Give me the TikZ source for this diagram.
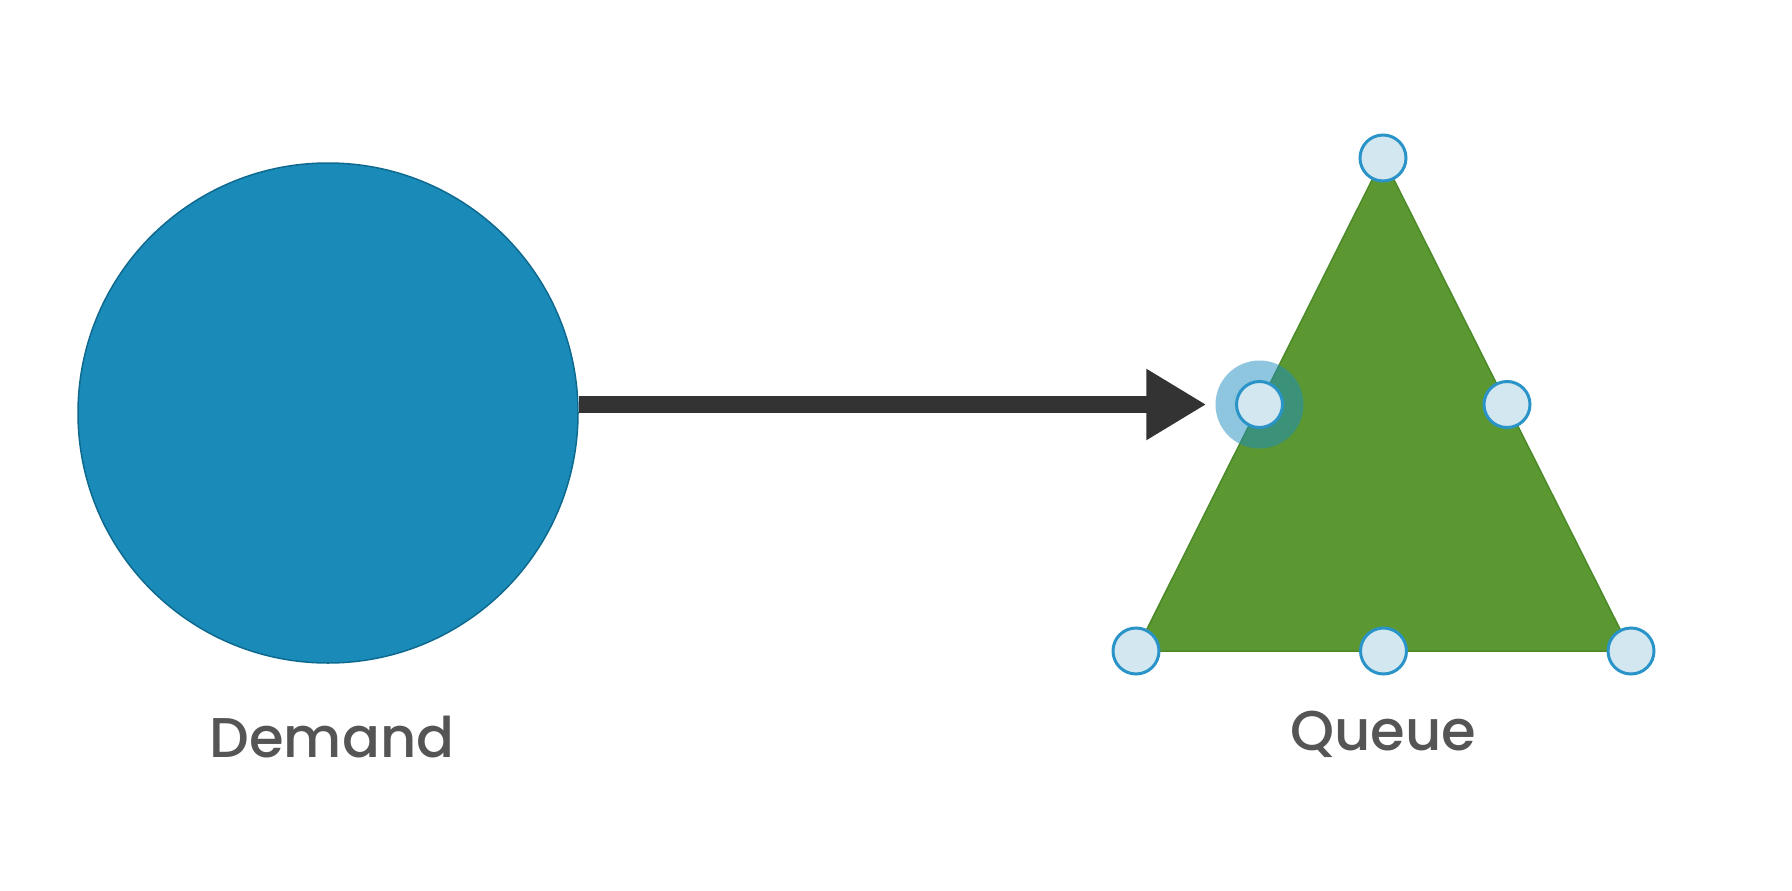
\documentclass[tikz,border=0pt]{standalone}
\usepackage{fontspec}
\setmainfont{Poppins}[UprightFont=* Medium]
\usetikzlibrary{arrows.meta,calc}
\definecolor{demandblue}{HTML}{1A8BB9}
\definecolor{demandedge}{HTML}{0F6A8F}
\definecolor{queuegreen}{HTML}{5B9832}
\definecolor{queueedge}{HTML}{4C8A28}
\definecolor{handlefill}{HTML}{D2E7EF}
\definecolor{handleedge}{HTML}{2A94C9}
\definecolor{halocolor}{HTML}{1E8DC0}
\definecolor{arrowgray}{HTML}{333333}
\definecolor{labelgray}{HTML}{555555}
\begin{document}
\begin{tikzpicture}[x=1pt,y=-1pt,
  handle/.style={circle, draw=handleedge, line width=3pt, fill=handlefill, minimum size=46pt, inner sep=0pt},
  halo/.style={circle, fill=halocolor, fill opacity=0.5, minimum size=88pt, inner sep=0pt},
  lbl/.style={anchor=base, text=labelgray, font=\fontsize{56}{60}\selectfont},
  connector/.style={draw=arrowgray, line width=17pt, -{Triangle[length=60pt, width=67pt]}}]
\useasboundingbox (0,0) rectangle (1792,891);
\fill[white] (0,0) rectangle (1792,891);
% Demand circle
\node[circle, fill=demandblue, draw=demandedge, line width=1.5pt, minimum size=500pt, inner sep=0pt] (demand) at (328,413) {};
% Queue triangle
\coordinate (qtop) at (1383,158);
\coordinate (qleft) at (1136,651);
\coordinate (qright) at (1631,651);
\draw[fill=queuegreen, draw=queueedge, line width=1.5pt] (qtop) -- (qleft) -- (qright) -- cycle;
\coordinate (qml) at ($(qtop)!0.5!(qleft)$);
\coordinate (qmr) at ($(qtop)!0.5!(qright)$);
\coordinate (qmb) at ($(qleft)!0.5!(qright)$);
% focus halo
\node[halo] (focus) at (qml) {};
% connector
\draw[connector, shorten >=9pt] (focus.west -| demand.east) -- (focus.west);
% handles
\node[handle] (h1) at (qtop) {};
\node[handle] (h2) at (qml) {};
\node[handle] (h3) at (qmr) {};
\node[handle] (h4) at (qleft) {};
\node[handle] (h5) at (qmb) {};
\node[handle] (h6) at (qright) {};
% labels
\node[lbl] (demandlabel) at (332,757) {Demand};
\node[lbl] (queuelabel) at (1383,750) {Queue};
\end{tikzpicture}
\end{document}
